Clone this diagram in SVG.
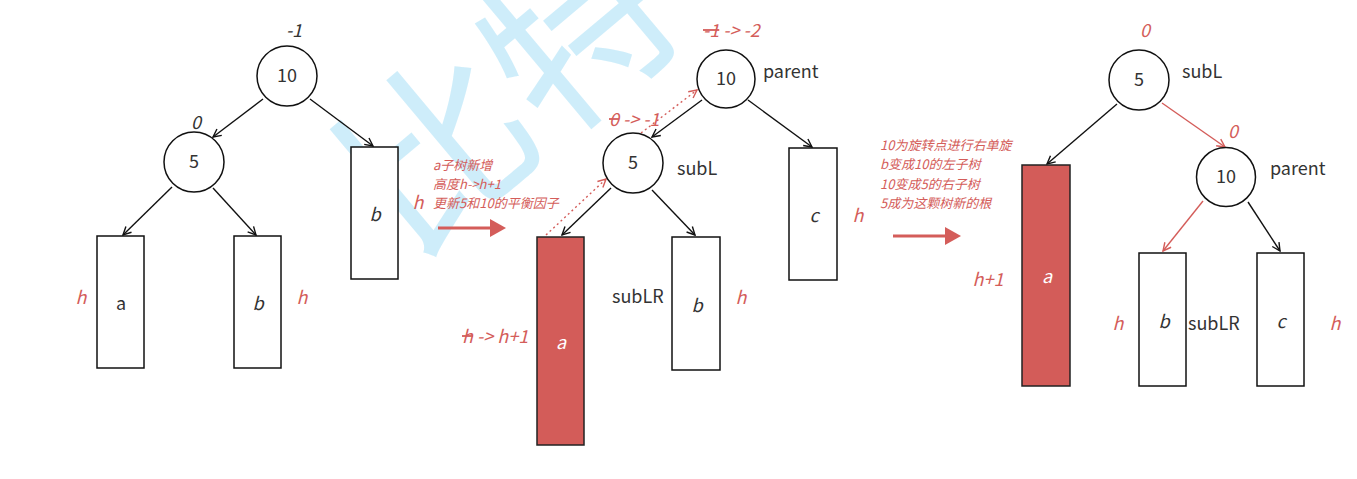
<svg xmlns="http://www.w3.org/2000/svg" width="1357" height="479" viewBox="0 0 1357 479">
<style>
text{font-family:"Noto Sans CJK SC","Noto Sans",sans-serif;}
.lbl{font-size:18px;fill:#333;}
.ctr{text-anchor:middle;}
.it{font-style:italic;}
.red{fill:#d45d5a;}
.note{font-size:13px;font-style:italic;fill:#d45d5a;}
.node{fill:#fff;stroke:#111;stroke-width:1.5;}
.box{fill:#fff;stroke:#111;stroke-width:1.5;}
.rbox{fill:#d35c59;stroke:#222;stroke-width:1.5;}
.edge{stroke:#111;stroke-width:1.4;fill:none;marker-end:url(#ah);}
.redge{stroke:#d45d5a;stroke-width:1.4;fill:none;marker-end:url(#ahr);}
.dot{stroke:#d45d5a;stroke-width:1.4;fill:none;stroke-dasharray:2 3;marker-end:url(#ahr);}
.big{stroke:#d45d5a;stroke-width:3;fill:none;}
.strike{text-decoration:line-through;}
</style>
<defs>
<marker id="ah" viewBox="0 0 10 10" refX="9" refY="5" markerWidth="10" markerHeight="10" markerUnits="userSpaceOnUse" orient="auto">
<path d="M1,1 L9,5 L1,9" fill="none" stroke="#111" stroke-width="1.4"/>
</marker>
<marker id="ahr" viewBox="0 0 10 10" refX="9" refY="5" markerWidth="10" markerHeight="10" markerUnits="userSpaceOnUse" orient="auto">
<path d="M1,1 L9,5 L1,9" fill="none" stroke="#d45d5a" stroke-width="1.4"/>
</marker>
</defs>
<rect width="1357" height="479" fill="#fff"/>
<text transform="translate(410,262) rotate(-40)" font-size="185" fill="#c6eaf9" fill-opacity="0.85">比特</text>

<g id="connectors">
<line class="edge" x1="263" y1="99" x2="213" y2="137"/>
<line class="edge" x1="310" y1="99" x2="373" y2="146"/>
<line class="edge" x1="172" y1="187" x2="123" y2="235"/>
<line class="edge" x1="213" y1="188" x2="256" y2="235"/>
<line class="edge" x1="702" y1="100" x2="652" y2="137"/>
<line class="edge" x1="748" y1="100" x2="812" y2="147"/>
<line class="edge" x1="611" y1="188" x2="562" y2="235"/>
<line class="edge" x1="652" y1="190" x2="695" y2="235"/>
<line class="dot" x1="641" y1="133" x2="697" y2="90"/>
<line class="dot" x1="546" y1="235" x2="606" y2="179"/>
<line class="edge" x1="1117" y1="104" x2="1047" y2="164"/>
<line class="redge" x1="1162" y1="103" x2="1225" y2="147"/>
<line class="redge" x1="1203" y1="201" x2="1163" y2="251"/>
<line class="edge" x1="1248" y1="202" x2="1280" y2="251"/>
<line class="big" x1="438" y1="228" x2="492" y2="228"/>
<path d="M490,219 L506,228 L490,237 Z" fill="#d45d5a"/>
<line class="big" x1="893" y1="236" x2="947" y2="236"/>
<path d="M945,227 L961,236 L945,245 Z" fill="#d45d5a"/>
</g>

<g id="tree1">
<g id="t1-n10"><circle class="node" cx="287" cy="76" r="30"/><text class="lbl ctr" x="287" y="82">10</text><text class="lbl ctr it" x="294" y="37">-1</text></g>
<g id="t1-n5"><circle class="node" cx="194" cy="162" r="30"/><text class="lbl ctr" x="194" y="168">5</text><text class="lbl ctr it" x="196" y="129">0</text></g>
<g id="t1-a"><rect class="box" x="97" y="236" width="47" height="132"/><text class="lbl ctr" x="121" y="310">a</text><text class="lbl ctr it red" x="81" y="304">h</text></g>
<g id="t1-b"><rect class="box" x="234" y="236" width="47" height="132"/><text class="lbl ctr it" x="258" y="310">b</text><text class="lbl ctr it red" x="302" y="304">h</text></g>
<g id="t1-b2"><rect class="box" x="351" y="147" width="47" height="132"/><text class="lbl ctr it" x="375" y="221">b</text><text class="lbl ctr it red" x="418" y="209">h</text></g>
</g>

<g id="note1">
<text class="note" x="433" y="170">a子树新增</text>
<text class="note" x="433" y="189">高度h-&gt;h+1</text>
<text class="note" x="433" y="208">更新5和10的平衡因子</text>
</g>

<g id="tree2">
<g id="t2-n10"><circle class="node" cx="726" cy="79" r="29"/><text class="lbl ctr" x="726" y="85">10</text><text class="lbl" x="763" y="78">parent</text><text class="lbl it red" x="703" y="37"><tspan class="strike">-1</tspan> -&gt; -2</text></g>
<g id="t2-n5"><circle class="node" cx="633" cy="163" r="30"/><text class="lbl ctr" x="633" y="169">5</text><text class="lbl" x="677" y="175">subL</text><text class="lbl it red" x="609" y="126"><tspan class="strike">0</tspan> -&gt; -1</text></g>
<g id="t2-a"><rect class="rbox" x="537" y="237" width="47" height="208"/><text class="lbl ctr it" style="fill:#fff" x="561" y="349">a</text><text class="lbl it red" x="462" y="343"><tspan class="strike">h</tspan> -&gt; h+1</text></g>
<g id="t2-b"><rect class="box" x="672" y="237" width="48" height="133"/><text class="lbl ctr it" x="697" y="312">b</text><text class="lbl" x="612" y="303">subLR</text><text class="lbl ctr it red" x="741" y="304">h</text></g>
<g id="t2-c"><rect class="box" x="789" y="148" width="48" height="132"/><text class="lbl ctr it" x="814" y="222">c</text><text class="lbl ctr it red" x="858" y="222">h</text></g>
</g>

<g id="note2">
<text class="note" x="880" y="150">10为旋转点进行右单旋</text>
<text class="note" x="880" y="169">b变成10的左子树</text>
<text class="note" x="880" y="189">10变成5的右子树</text>
<text class="note" x="880" y="208">5成为这颗树新的根</text>
</g>

<g id="tree3">
<g id="t3-n5"><circle class="node" cx="1139" cy="80" r="30"/><text class="lbl ctr" x="1139" y="86">5</text><text class="lbl" x="1182" y="78">subL</text><text class="lbl ctr it red" x="1145" y="37">0</text></g>
<g id="t3-n10"><circle class="node" cx="1226" cy="177" r="29.5"/><text class="lbl ctr" x="1226" y="183">10</text><text class="lbl" x="1270" y="175">parent</text><text class="lbl ctr it red" x="1233" y="138">0</text></g>
<g id="t3-a"><rect class="rbox" x="1022" y="165" width="48" height="221"/><text class="lbl ctr it" style="fill:#fff" x="1047" y="283">a</text><text class="lbl ctr it red" x="988" y="286">h+1</text></g>
<g id="t3-b"><rect class="box" x="1139" y="253" width="47" height="133"/><text class="lbl ctr it" x="1164" y="328">b</text><text class="lbl" x="1188" y="330">subLR</text><text class="lbl ctr it red" x="1118" y="330">h</text></g>
<g id="t3-c"><rect class="box" x="1257" y="253" width="47" height="133"/><text class="lbl ctr it" x="1281" y="328">c</text><text class="lbl ctr it red" x="1335" y="330">h</text></g>
</g>
</svg>
